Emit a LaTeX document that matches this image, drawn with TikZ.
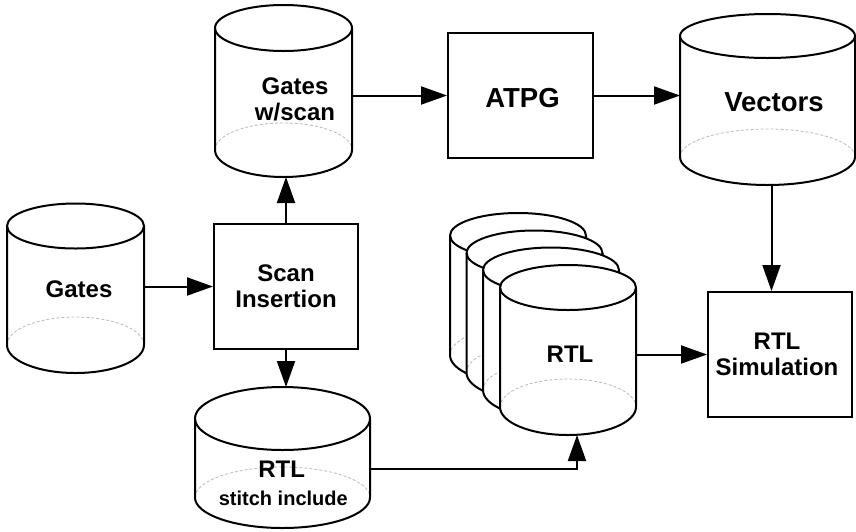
\documentclass[tikz,border=0pt]{standalone}
\usepackage{fontspec}
\setmainfont{Liberation Sans}
\usetikzlibrary{arrows.meta,calc}

\tikzset{
  outline/.style={line width=2pt, line join=round},
  hidden/.style={gray!55, line width=0.8pt, densely dashed},
  stepbox/.style={draw, line width=2pt, fill=white, minimum width=144pt,
    minimum height=125pt, inner sep=0pt},
  drumframe/.style={inner sep=0pt, outer sep=0pt},
  tagtext/.style={font=\bfseries\fontsize{24}{26}\selectfont, align=center, inner sep=0pt},
  bigtag/.style={font=\bfseries\fontsize{27.5}{30}\selectfont, inner sep=0pt},
  smalltag/.style={font=\bfseries\fontsize{20}{22}\selectfont, inner sep=0pt},
  flow/.style={line width=2pt, -{Triangle[length=26pt,width=18pt]}},
}

% drum: centre x, top-ellipse centre y, bottom-ellipse centre y (downwards),
% x radius, top y radius, bottom y radius
\newcommand\drum[6]{%
  \fill[white] (#1-#4,-#2) -- (#1-#4,-#3)
    arc[start angle=180,end angle=360,x radius=#4,y radius=#6]
    -- (#1+#4,-#2)
    arc[start angle=0,end angle=180,x radius=#4,y radius=#5] -- cycle;
  \draw[hidden] (#1-#4,-#3) arc[start angle=180,end angle=0,x radius=#4,y radius=#6];
  \draw[outline] (#1-#4,-#2) -- (#1-#4,-#3)
    arc[start angle=180,end angle=360,x radius=#4,y radius=#6] -- (#1+#4,-#2);
  \draw[outline] (#1,-#2) ellipse[x radius=#4,y radius=#5];
}

\begin{document}
\begin{tikzpicture}[x=1pt,y=1pt]
\useasboundingbox (0,0) rectangle (856,-531);
\fill[white] (0,0) rectangle (856,-531);

% data stores
\drum{75.5}{226}{345}{68.5}{22.5}{28}
\node[drumframe, minimum width=137pt, minimum height=169.5pt] (gates) at (75.5,-288.25) {};

\drum{283.5}{28}{150}{68.5}{23}{27}
\node[drumframe, minimum width=137pt, minimum height=172pt] (gws) at (283.5,-91) {};

\drum{767.5}{36}{157}{87.5}{22}{28}
\node[drumframe, minimum width=175pt, minimum height=171pt] (vectors) at (767.5,-99.5) {};

\drum{282.5}{418.5}{497.5}{87.5}{31.5}{30.5}
\node[drumframe, minimum width=175pt, minimum height=141pt] (stitch) at (282.5,-457.5) {};

% stacked RTL stores, back to front
\drum{518}{235.5}{355}{68}{22.5}{28}
\drum{534.5}{253}{372.5}{68}{22.5}{28}
\drum{551}{270}{390}{68}{22.5}{28}
\drum{568}{287.5}{407}{68}{22.5}{28}
\node[drumframe, minimum width=136pt, minimum height=170pt] (rtl) at (568,-350) {};

% process boxes
\node[stepbox] (scan) at (286,-286.5) {};
\node[stepbox, minimum width=145pt] (atpg) at (520.5,-95.5) {};
\node[stepbox] (sim) at (780,-354.5) {};

% connectors
\draw[flow] (gates.east |- scan.west) -- (scan.west);
\draw[flow] (scan.north) -- (scan.north |- gws.south);
\draw[flow] (scan.south) -- (scan.south |- stitch.north);
\draw[flow] (gws.east |- atpg.west) -- (atpg.west);
\draw[flow] (atpg.east) -- (atpg.east -| vectors.west);
\draw[flow] ([xshift=4pt]vectors.south) -- ([xshift=4pt]vectors.south |- sim.north);
\draw[flow] (rtl.east |- sim.west) -- (sim.west);
\draw[flow] ([yshift=-11.5pt]stitch.east) -| ([xshift=9pt]rtl.south);

% labels
\node[tagtext] (gates-t) at (79,-289) {Gates};
\node[tagtext] (gws-t) at (295,-99) {Gates\\w/scan};
\node[bigtag] (atpg-t) at (522.5,-98.3) {ATPG};
\node[bigtag] (vectors-t) at (774,-101.7) {Vectors};
\node[tagtext] (scan-t) at (286,-286.7) {Scan\\Insertion};
\node[tagtext] (rtl-t) at (570,-354.5) {RTL};
\node[tagtext] (sim-t) at (777,-354) {RTL\\Simulation};
\node[tagtext] (stitch-t1) at (281.7,-469) {RTL};
\node[smalltag] (stitch-t2) at (283.3,-498) {stitch include};
\end{tikzpicture}
\end{document}
